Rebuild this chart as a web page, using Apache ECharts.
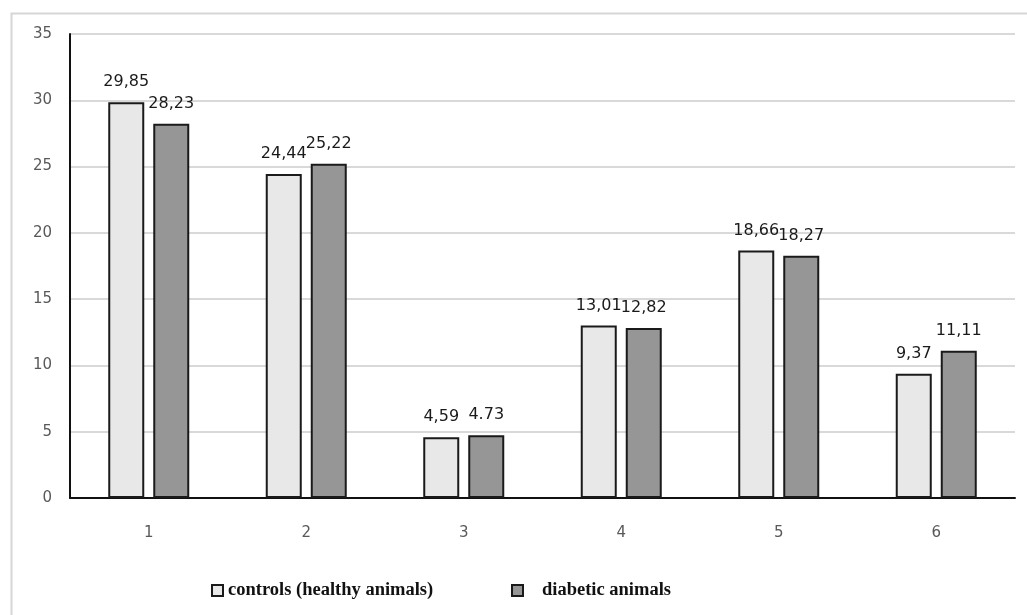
<!DOCTYPE html>
<html>
<head>
<meta charset="utf-8">
<script src="https://cdn.jsdelivr.net/npm/echarts@6/dist/echarts.min.js"></script>
<style>html,body{margin:0;padding:0;background:#fff}#c{width:1027px;height:615px}</style>
</head>
<body>
<div id="c"></div>
<script>
const categories = ['1', '2', '3', '4', '5', '6'];
const controls = [29.85, 24.44, 4.59, 13.01, 18.66, 9.37];
const diabetic = [28.23, 25.22, 4.73, 12.82, 18.27, 11.11];
const controlsLabels = ['29,85', '24,44', '4,59', '13,01', '18,66', '9,37'];
const diabeticLabels = ['28,23', '25,22', '4.73', '12,82', '18,27', '11,11'];
const yTicks = [0, 5, 10, 15, 20, 25, 30, 35];
const seriesNames = ['controls (healthy animals)', 'diabetic animals'];

const chart = echarts.init(document.getElementById('c'));
const labelStyle = {
  show: true, position: 'top', distance: 12,
  fontFamily: 'DejaVu Sans', fontSize: 16, color: '#1a1a1a'
};
const legendText = { fontFamily: 'Liberation Serif', fontWeight: 'bold', fontSize: 18.5, color: '#111' };
chart.setOption({
  animation: false,
  backgroundColor: '#fff',
  graphic: [{
    type: 'rect', left: 9, top: 11,
    shape: { width: 1100, height: 700 },
    style: { fill: 'none', stroke: '#d6d6d6', lineWidth: 2 }
  }],
  grid: { left: 70, right: 12, top: 34, bottom: 117, containLabel: false },
  legend: [{
    data: [seriesNames[0]], left: 206, top: 576,
    icon: 'rect', itemWidth: 11, itemHeight: 11, itemGap: 10,
    textStyle: legendText
  }, {
    data: [seriesNames[1]], left: 506, top: 576,
    icon: 'rect', itemWidth: 11, itemHeight: 11,
    textStyle: Object.assign({ padding: [0, 0, 0, 14] }, legendText)
  }],
  xAxis: {
    type: 'category', data: categories,
    axisLine: { lineStyle: { color: '#111', width: 2 } },
    axisTick: { show: false },
    axisLabel: { margin: 28, fontFamily: 'DejaVu Sans', fontSize: 15, color: '#595959' }
  },
  yAxis: {
    type: 'value', min: yTicks[0], max: yTicks[yTicks.length - 1], interval: 5,
    axisLine: { show: true, lineStyle: { color: '#111', width: 2 } },
    axisTick: { show: false },
    axisLabel: { margin: 18, fontFamily: 'DejaVu Sans', fontSize: 15, color: '#595959' },
    splitLine: { lineStyle: { color: '#d9d9d9', width: 2 } }
  },
  series: [{
    name: seriesNames[0], type: 'bar', data: controls,
    barWidth: 36, barGap: '25%',
    itemStyle: { color: '#e8e8e8', borderColor: '#1a1a1a', borderWidth: 2 },
    label: Object.assign({ formatter: p => controlsLabels[p.dataIndex] }, labelStyle)
  }, {
    name: seriesNames[1], type: 'bar', data: diabetic,
    barWidth: 36,
    itemStyle: { color: '#969696', borderColor: '#1a1a1a', borderWidth: 2 },
    label: Object.assign({ formatter: p => diabeticLabels[p.dataIndex] }, labelStyle)
  }]
});
</script>
</body>
</html>
